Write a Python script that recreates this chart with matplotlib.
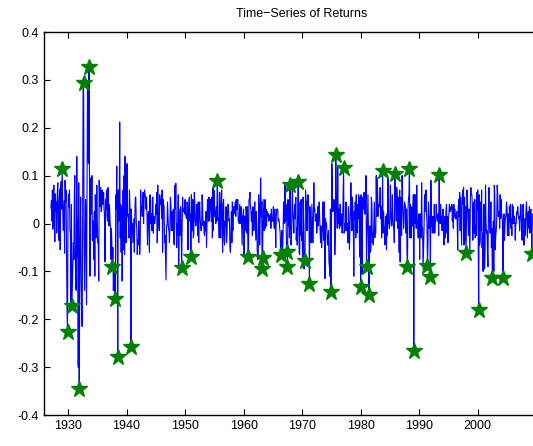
import matplotlib
matplotlib.use("Agg")
import matplotlib.pyplot as plt
import numpy as np

plt.rcParams['font.family'] = ['Liberation Sans', 'DejaVu Sans']

# monthly returns in 1/1000, one row per year, starting Jan 1927
r1920s = [
    32, 48, 5, 70, -12, 55, 80, 12, -38, 62, 25, 45,
    -20, 60, 85, 18, -35, 40, 72, -55, 65, 88, 30, 60,
    55, -15, 20, 48, -62, 90, 45, 70, -50, -180, 10, 25,
]
r1930s = [
    60, 35, 70, -15, -20, -165, 40, 8, -130, -95, -40, -75,
    60, 100, -68, -135, -140, 140, -70, 12, -300, 85, -95, -150,
    -25, 55, -115, -185, -215, -5, 280, 30, -30, -140, -60, 50,
    10, -170, 40, 290, 165, 125, -95, 110, -110, 80, 95, 20,
    100, -35, 5, -30, -75, 25, -110, 60, -5, -30, 80, 5,
    -40, -35, -120, 90, 35, 65, 75, 25, 30, 70, 45, 40,
    65, 30, 10, -80, 50, 30, 70, 15, 5, 75, 15, -5,
    40, 10, -10, -75, -10, -45, 90, -50, -140, -100, -85, -45,
    -150, 60, 30, 120, -40, -270, 70, 5, 10, 212, -30, 40,
    -60, 35, -120, -5, 70, -55, 100, -65, 140, -5, -40, 30,
]
r1940s = [
    125, 15, 20, 0, -30, 70, 35, 25, -250, 30, -20, 0,
    -40, -15, 10, -60, 15, 55, 55, 0, -10, -65, -35, -45,
    5, -25, -65, -40, 70, 25, 35, 15, 25, 65, 0, 50,
    70, 60, 55, 30, 55, 15, -45, 15, 25, -10, -60, 60,
    10, 0, 20, -15, 50, 55, -20, 15, 0, 0, 15, 40,
    20, 65, -40, 80, 20, 0, -15, 60, 50, 40, 50, 10,
    70, -60, 50, 40, 35, -40, -25, -70, -118, -5, -5, 45,
    15, -10, -15, -40, -5, 55, 40, -15, -5, 25, -15, 30,
    -40, -45, 80, 30, 84, 0, -50, 0, -25, 60, -90, 30,
    5, -25, 35, -15, -30, -5, 55, 25, 30, 30, 20, 50,
]
r1950s = [
    20, 15, 10, 45, 40, -55, 15, 50, 55, 5, 20, 50,
    60, 15, -15, 50, -30, -20, 65, 45, 5, -5, 5, 40,
    15, -25, 45, -40, 30, 45, 10, -5, -15, 0, 60, 35,
    -5, 5, -20, -25, 5, -15, 25, -50, 0, 50, 30, 5,
    55, 5, 35, 50, 40, 5, 55, -30, 75, -15, 70, 50,
    15, 25, 0, 35, 5, 85, 55, 5, 10, -30, 65, 5,
    -30, 40, 70, -5, -60, 40, 50, -35, -45, 5, -5, 35,
    -40, -25, 20, 40, 35, 5, 10, -50, -60, -30, 25, -40,
    45, -15, 35, 35, 20, 30, 45, 15, 50, 30, 30, 50,
    5, 5, 0, 40, 20, 0, 35, -10, -45, 15, 20, 30,
]
r1960s = [
    -70, 15, -15, -15, 35, 25, -20, 35, -60, -5, 50, 50,
    65, 35, 30, 5, 25, -25, 35, 25, -15, 30, 45, 5,
    -35, 25, -5, -55, -75, -70, 60, 25, -45, 5, 95, 15,
    45, -94, -73, 50, 20, -15, 0, 50, -10, 30, -5, 20,
    25, 15, 20, 5, 15, 15, 20, -10, 30, 10, 5, 5,
    35, 5, -10, 30, -5, -50, 15, 30, 30, 30, 5, 10,
    5, -10, -20, 10, -65, -15, -15, -75, -10, 45, 10, 0,
    80, 5, 40, 45, -40, 10, 50, -5, 30, -30, 5, 35,
    -45, -35, 5, 85, 20, 10, -20, 20, 40, 10, 55, -35,
    -10, -45, 30, 20, 0, -60, -65, 45, -25, 50, -35, -20,
]
r1970s = [
    -75, 55, 0, -95, -60, -55, 70, 50, 40, -15, 50, 60,
    50, 15, 40, 35, -40, 0, -40, 40, -5, -40, 0, 85,
    25, 30, 5, 10, 20, -20, 0, 35, -5, 10, 45, 10,
    -20, -40, -5, -50, -20, -5, 45, -35, 45, -5, -115, 10,
    0, 0, -25, -45, -35, -15, -80, -90, -110, 30, -50, -25,
    125, 60, 25, 45, 50, 45, -65, -20, -40, 60, 30, -10,
    120, 0, 30, -10, -10, 40, -5, 0, 20, -20, 0, 55,
    40, -20, -15, 0, -15, 45, -15, -15, 0, -40, 35, 0,
    -55, -15, 30, 85, 20, -15, 55, 35, -5, -110, 25, 10,
    45, -30, 60, 5, -20, 40, 10, 60, 0, -70, 55, 20,
]
r1980s = [
    60, 5, -105, 45, 55, 30, 65, 20, 25, 20, 100, -35,
    -40, 20, 60, -15, 5, -10, -5, -60, -55, 55, 40, -40,
    -20, -45, 0, 45, -30, -20, -20, 100, 15, 95, 50, 15,
    40, 35, 35, 75, 10, 35, -30, 5, 10, -20, 25, -10,
    -10, -45, 15, 0, -55, 20, -25, 95, 0, 0, -10, 25,
    80, 15, -5, -5, 60, 15, -5, -5, -40, 45, 70, 45,
    5, 75, 55, -10, 55, 15, -60, 70, -80, 55, 20, -25,
    100, 45, 25, -10, 5, 45, 40, 35, -20, 30, -60, 20,
    30, 50, 60, 20, -30, 40, -10, -30, 35, -5, 20, 60,
    10, 60, 0, 60, 40, -10, 80, 10, 0, -30, 20, 20,
]
r1990s = [
    -75, 10, 20, -30, 85, -5, -10, -95, -55, -10, 60, 25,
    45, 70, 25, 0, 40, -45, 45, 25, -10, 15, -40, 90,
    -5, 10, -20, 15, 5, -20, 40, -20, 10, 5, 40, 15,
    10, 5, 20, -25, 25, 5, 0, 40, 0, 15, -15, 15,
    30, -25, -45, 10, 15, -30, 30, 40, -20, 15, -40, 10,
    20, 40, 25, 25, 35, 30, 40, 5, 35, -10, 40, 15,
    30, 10, 10, 20, 25, 0, -55, 30, 50, 15, 65, -15,
    55, 5, -45, 50, 70, 40, 75, -45, 55, -35, 35, 15,
    5, 70, 50, 10, -25, 30, -20, -60, 60, 75, 60, 60,
    40, -35, 40, 45, -20, 50, -30, -5, -25, 65, 30, 70,
]
r2000s = [
    -40, 20, 60, -45, -35, 45, -15, 70, -50, -20, -100, 15,
    40, -95, -70, 80, 5, -20, -15, -60, -90, 25, 75, 10,
    -20, -20, 45, -50, -10, -70, -80, 5, -100, 80, 60, -55,
    -25, -15, 10, 80, 60, 15, 20, 25, -10, 60, 10, 50,
    20, 15, -15, -20, 15, 20, -35, 0, 15, 15, 45, 35,
    -25, 20, -20, -25, 35, 5, 40, -10, 10, -25, 40, 0,
    35, 0, 15, 10, -35, 0, 0, 25, 20, 35, 20, 10,
    15, -15, 10, 40, 35, -15, -35, 15, 40, 20, -45, -5,
    10, -25, 30, 45, 20, -30, 15, 25, -10, 35, -20, 15,
    30, -5, -50, 20,
]

# flagged extreme observations (date, return)
star_years = [1928.97, 1929.95, 1930.63, 1931.88, 1932.68, 1933.59,
              1937.59, 1938.03, 1938.49, 1940.71, 1949.43, 1951.02,
              1955.53, 1960.82, 1963.15, 1963.21, 1966.34, 1967.31,
              1967.48, 1967.88, 1969.30, 1970.38, 1971.24, 1974.88,
              1975.79, 1977.10, 1980.00, 1980.98, 1981.38, 1983.77,
              1985.82, 1987.99, 1988.33, 1989.12, 1991.41, 1991.92,
              1993.39, 1998.00, 2000.17, 2002.51, 2004.32, 2009.27]
star_values = [0.114, -0.226, -0.172, -0.346, 0.293, 0.327,
               -0.090, -0.158, -0.279, -0.258, -0.092, -0.069,
               0.089, -0.071, -0.094, -0.073, -0.065, -0.059,
               -0.090, 0.081, 0.086, -0.079, -0.126, -0.143,
               0.143, 0.116, -0.133, -0.090, -0.150, 0.110,
               0.103, -0.091, 0.114, -0.266, -0.089, -0.112,
               0.101, -0.062, -0.181, -0.114, -0.113, -0.064]

returns = np.array(r1920s + r1930s + r1940s + r1950s + r1960s +
                   r1970s + r1980s + r1990s + r2000s) / 1000.0
dates = 1927 + (np.arange(len(returns)) + 1) / 12.0

star_idx = [int(np.argmin(np.abs(dates - y))) for y in star_years]
for i, v in zip(star_idx, star_values):
    returns[i] = v

fig = plt.figure(figsize=(5.33, 4.46), dpi=100)
ax = fig.add_axes([44 / 533, 31 / 446, 516 / 533, 383 / 446])

ax.plot(dates, returns, color='b', linewidth=0.8)
ax.plot(dates[star_idx], returns[star_idx], linestyle='none', marker='*',
        color=(0, 0.5, 0), markersize=12)

ax.set_xlim(1925.9, 1925.9 + 516 / 5.853)
ax.set_ylim(-0.4, 0.4)
ax.set_xticks(np.arange(1930, 2010, 10))
ax.set_yticks(np.arange(-0.4, 0.41, 0.1))
ax.set_yticklabels(['%g' % round(v, 1) if abs(v) > 1e-9 else '0'
                    for v in np.arange(-0.4, 0.41, 0.1)])
ax.tick_params(direction='in', top=True, right=False, length=4,
               width=0.8, labelsize=9)
for s in ax.spines.values():
    s.set_linewidth(1.0)
ax.set_title('Time\u2212Series of Returns', fontsize=9, pad=11)

fig.savefig('out.png', dpi=100)
